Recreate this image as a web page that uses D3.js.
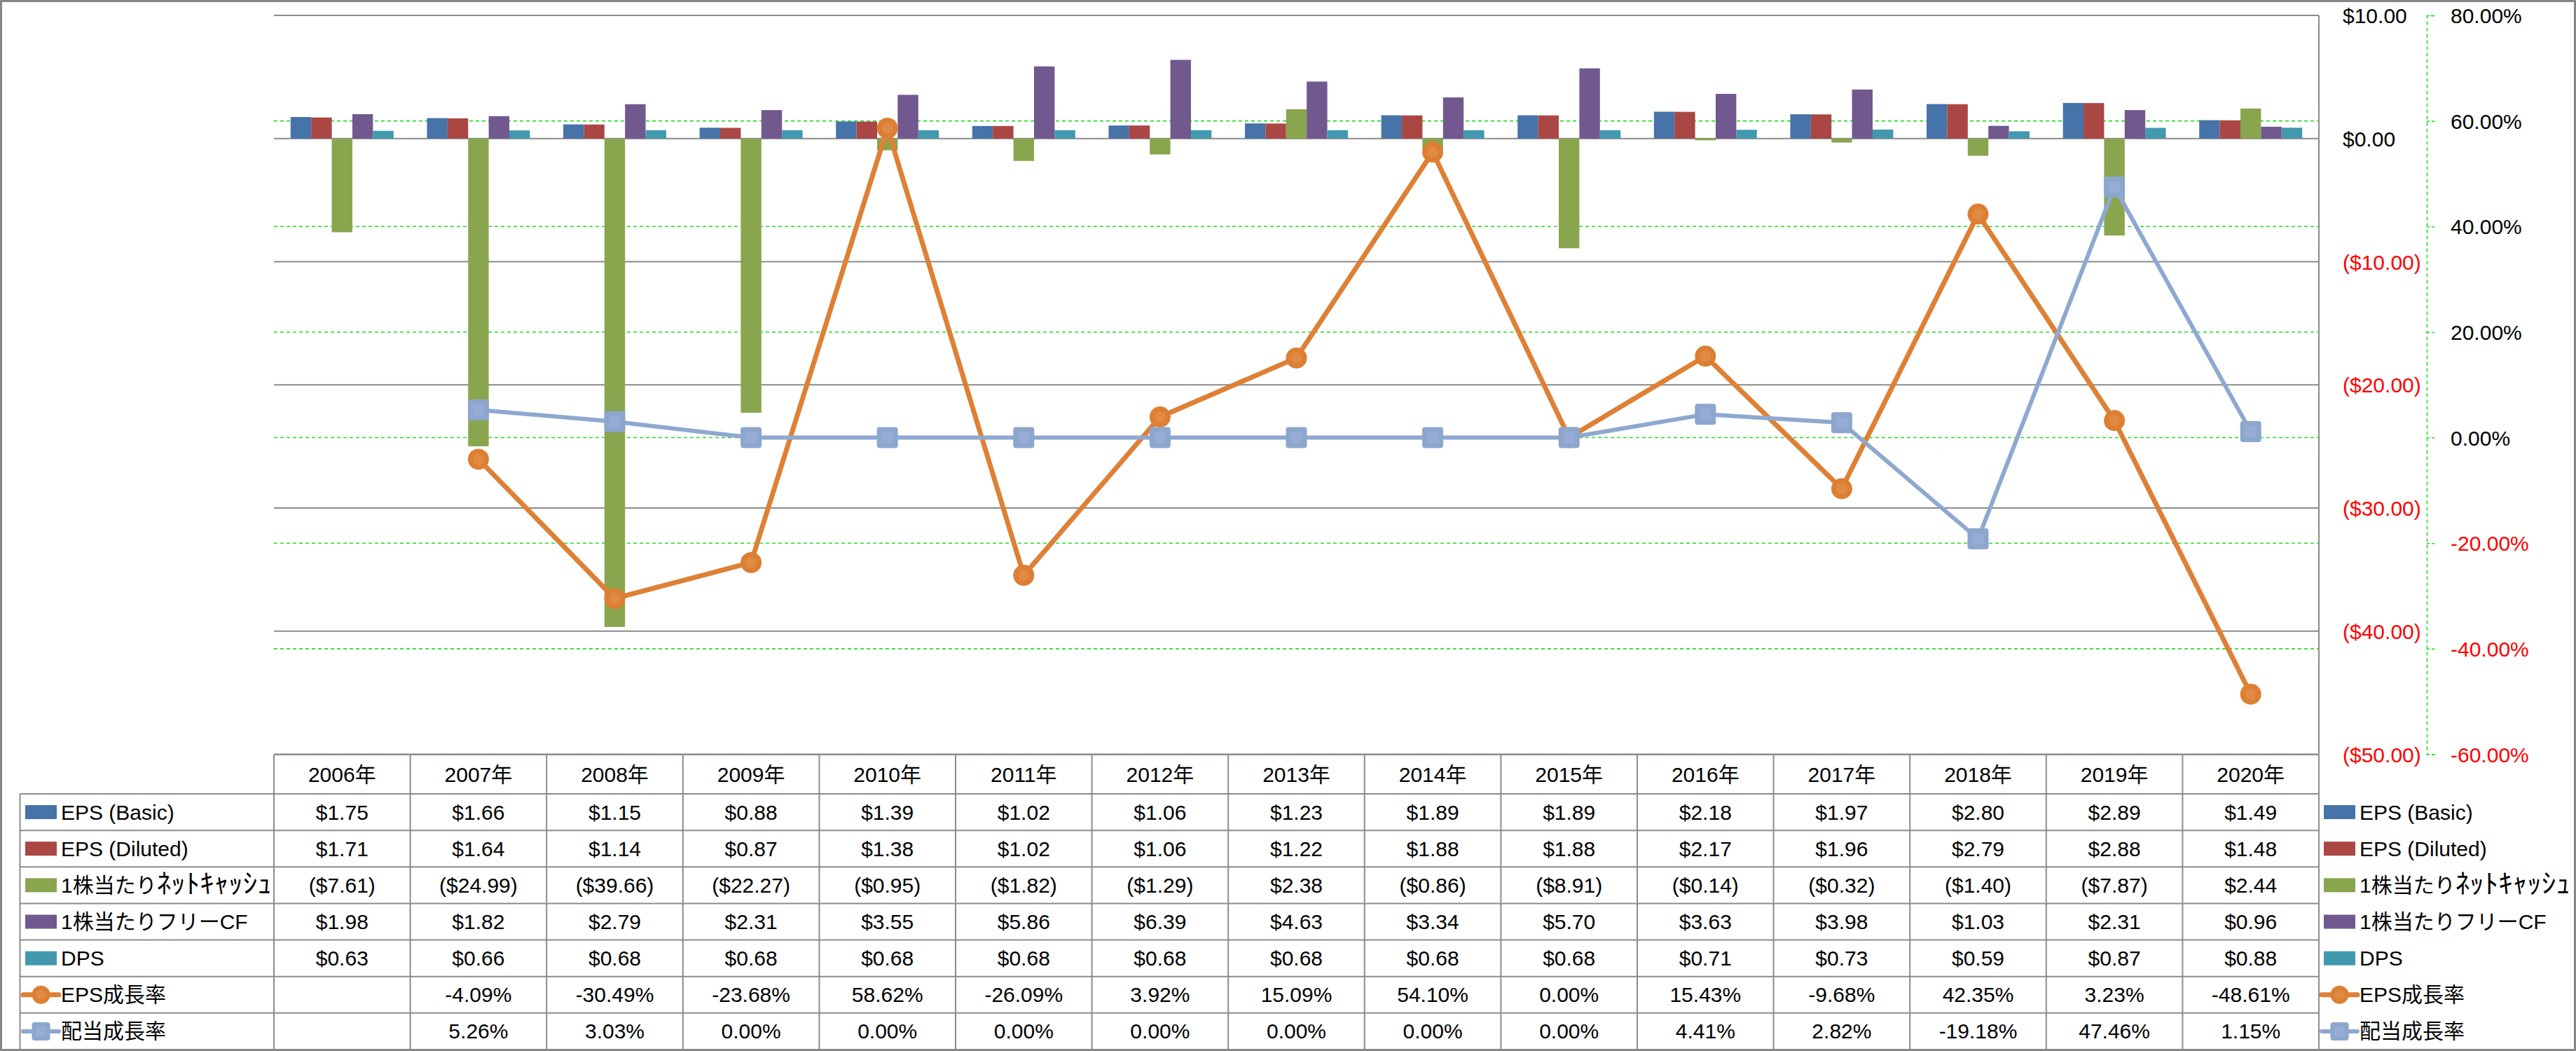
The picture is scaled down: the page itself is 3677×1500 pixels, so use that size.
<!DOCTYPE html>
<html><head><meta charset="utf-8">
<script src="https://cdn.jsdelivr.net/npm/d3@7"></script>
<style>
html,body{margin:0;padding:0;background:#fff;}
text{font-family:"Liberation Sans","Noto Sans CJK JP",sans-serif;}
</style></head>
<body><svg id="c" width="3677" height="1500"></svg>
<script>
const years = ["2006年","2007年","2008年","2009年","2010年","2011年","2012年","2013年","2014年","2015年","2016年","2017年","2018年","2019年","2020年"];
const barNames = ["EPS (Basic)","EPS (Diluted)","1株当たりﾈｯﾄｷｬｯｼｭ","1株当たりフリーCF","DPS"];
const epsBasic   = [1.75,1.66,1.15,0.88,1.39,1.02,1.06,1.23,1.89,1.89,2.18,1.97,2.80,2.89,1.49];
const epsDiluted = [1.71,1.64,1.14,0.87,1.38,1.02,1.06,1.22,1.88,1.88,2.17,1.96,2.79,2.88,1.48];
const netCash    = [-7.61,-24.99,-39.66,-22.27,-0.95,-1.82,-1.29,2.38,-0.86,-8.91,-0.14,-0.32,-1.40,-7.87,2.44];
const freeCF     = [1.98,1.82,2.79,2.31,3.55,5.86,6.39,4.63,3.34,5.70,3.63,3.98,1.03,2.31,0.96];
const dps        = [0.63,0.66,0.68,0.68,0.68,0.68,0.68,0.68,0.68,0.68,0.71,0.73,0.59,0.87,0.88];
const lineNames = ["EPS成長率","配当成長率"];
const epsGrowth  = [null,-4.09,-30.49,-23.68,58.62,-26.09,3.92,15.09,54.10,0.00,15.43,-9.68,42.35,3.23,-48.61];
const divGrowth  = [null,5.26,3.03,0.00,0.00,0.00,0.00,0.00,0.00,0.00,4.41,2.82,-19.18,47.46,1.15];
const dollarDomain = [-50,10];
const pctDomain = [-60,80];

const barSeries = [epsBasic,epsDiluted,netCash,freeCF,dps];
const barColors = ["#4673A8","#AA4644","#89A54E","#71588F","#4198AF"];
const lineSeries = [epsGrowth,divGrowth];
const lineColors = ["#DE8035","#8EA8D0"];

const svg = d3.select("#c");
const L = 391, R = 3310, T = 22, B = 1076.5;
const x = d3.scaleBand().domain(years).range([L,R]);
const bw = x.bandwidth();
const xb = d3.scaleBand().domain(d3.range(5)).range([bw*0.1225, bw*(1-0.1225)]);
const yL = d3.scaleLinear().domain(dollarDomain).range([B,T]);
const yR = d3.scaleLinear().domain(pctDomain).range([B,T]);

const fmtD = v => v < 0 ? "($" + Math.abs(v).toFixed(2) + ")" : "$" + v.toFixed(2);
const fmtP = v => v.toFixed(2) + "%";

// percent gridlines (green dashed)
svg.append("g").selectAll("line").data(yR.ticks(7)).join("line")
  .attr("x1",L).attr("x2",R).attr("y1",d=>yR(d)).attr("y2",d=>yR(d))
  .attr("stroke","#22E022").attr("stroke-width",1.6).attr("stroke-dasharray","5,4");
// dollar gridlines (grey)
svg.append("g").selectAll("line").data(yL.ticks(6)).join("line")
  .attr("x1",L).attr("x2",R).attr("y1",d=>yL(d)).attr("y2",d=>yL(d))
  .attr("stroke","#8A8A8A").attr("stroke-width",2);

// bars
const gb = svg.append("g");
barSeries.forEach((ser,si)=>{
  gb.append("g").selectAll("rect").data(ser).join("rect")
    .attr("x",(d,i)=>x(years[i])+xb(si))
    .attr("width",xb.bandwidth())
    .attr("y",d=>yL(Math.max(0,d)))
    .attr("height",d=>Math.abs(yL(d)-yL(0)))
    .attr("fill",barColors[si]);
});

// right plot border (primary axis line)
svg.append("line").attr("x1",R).attr("x2",R).attr("y1",T).attr("y2",B)
  .attr("stroke","#8A8A8A").attr("stroke-width",2);

// dollar axis
const axD = svg.append("g").attr("transform",`translate(${R},0)`)
  .call(d3.axisRight(yL).ticks(6).tickSize(0).tickPadding(34).tickFormat(fmtD));
axD.select(".domain").remove();
axD.selectAll("text").attr("font-size",30).attr("dy","0.35em")
  .attr("fill",d=>d<0?"#FF0000":"#000");

// percent axis
const axP = svg.append("g").attr("transform",`translate(3464,0)`)
  .call(d3.axisRight(yR).ticks(7).tickSize(12).tickPadding(22).tickFormat(fmtP));
axP.select(".domain").attr("stroke","#22E022").attr("stroke-width",1.6).attr("stroke-dasharray","5,4");
axP.selectAll(".tick line").attr("stroke","#22E022").attr("stroke-width",1.6).attr("stroke-dasharray","4,3");
axP.selectAll("text").attr("font-size",30).attr("dy","0.35em")
  .attr("fill",d=>d<0?"#FF0000":"#000");

// lines
const cx = i => x(years[i]) + bw/2;
lineSeries.forEach((ser,li)=>{
  const line = d3.line().defined(d=>d!=null).x((d,i)=>cx(i)).y(d=>yR(d));
  svg.append("path").datum(ser).attr("d",line).attr("fill","none")
    .attr("stroke",lineColors[li]).attr("stroke-width",li===0?7:6).attr("stroke-linejoin","round");
});
// markers
const pts0 = epsGrowth.map((v,i)=>({v,i})).filter(d=>d.v!=null);
const g0 = svg.append("g");
g0.selectAll("circle.o").data(pts0).join("circle").attr("cx",d=>cx(d.i)).attr("cy",d=>yR(d.v)).attr("r",15).attr("fill","#DD7F33");
g0.selectAll("circle.i").data(pts0).join("circle").attr("cx",d=>cx(d.i)).attr("cy",d=>yR(d.v)).attr("r",8).attr("fill","#E08A44");
const pts1 = divGrowth.map((v,i)=>({v,i})).filter(d=>d.v!=null);
const g1 = svg.append("g");
g1.selectAll("rect.o").data(pts1).join("rect").attr("x",d=>cx(d.i)-15).attr("y",d=>yR(d.v)-15).attr("width",30).attr("height",30).attr("rx",4).attr("fill","#8CA6CE");
g1.selectAll("rect.i").data(pts1).join("rect").attr("x",d=>cx(d.i)-8).attr("y",d=>yR(d.v)-8).attr("width",16).attr("height",16).attr("fill","#97ACD5");

// ===== data table =====
const tableRows = [
  {name:barNames[0], vals:epsBasic.map(fmtD), type:"bar", c:barColors[0]},
  {name:barNames[1], vals:epsDiluted.map(fmtD), type:"bar", c:barColors[1]},
  {name:barNames[2], vals:netCash.map(fmtD), type:"bar", c:barColors[2]},
  {name:barNames[3], vals:freeCF.map(fmtD), type:"bar", c:barColors[3]},
  {name:barNames[4], vals:dps.map(fmtD), type:"bar", c:barColors[4]},
  {name:lineNames[0], vals:epsGrowth.map(v=>v==null?"":fmtP(v)), type:"circle", c:lineColors[0]},
  {name:lineNames[1], vals:divGrowth.map(v=>v==null?"":fmtP(v)), type:"square", c:lineColors[1]}
];
const TL = 28.5, HT = 1077, HB = 1133, TB = 1498;
const yRow = d3.scaleBand().domain(d3.range(tableRows.length)).range([HB,TB]);
const gt = svg.append("g");
const gridC = "#8C8C8C";
gt.append("line").attr("x1",L).attr("x2",R).attr("y1",HT).attr("y2",HT).attr("stroke",gridC).attr("stroke-width",2);
d3.range(tableRows.length+1).forEach(k=>{
  const yy = k<tableRows.length ? yRow(k) : TB;
  gt.append("line").attr("x1",TL).attr("x2",R).attr("y1",yy).attr("y2",yy).attr("stroke",gridC).attr("stroke-width",2);
});
gt.append("line").attr("x1",TL).attr("x2",TL).attr("y1",HB).attr("y2",TB).attr("stroke",gridC).attr("stroke-width",2);
years.forEach(yv=>{
  gt.append("line").attr("x1",x(yv)).attr("x2",x(yv)).attr("y1",HT).attr("y2",TB).attr("stroke",gridC).attr("stroke-width",2);
});
gt.append("line").attr("x1",R).attr("x2",R).attr("y1",HT).attr("y2",TB).attr("stroke",gridC).attr("stroke-width",2);
gt.selectAll("text.h").data(years).join("text")
  .attr("x",d=>x(d)+bw/2).attr("y",(HT+HB)/2).attr("dy","0.35em")
  .attr("text-anchor","middle").attr("font-size",30).attr("fill","#000").text(d=>d);

function legendKey(g, row, x0, x1, yc){
  if(row.type==="bar"){
    g.append("rect").attr("x",x0).attr("y",yc-10).attr("width",x1-x0).attr("height",20).attr("fill",row.c);
  } else {
    g.append("line").attr("x1",x0-3).attr("x2",x1+3).attr("y1",yc).attr("y2",yc).attr("stroke",row.c).attr("stroke-width",row.type==="circle"?7:6).attr("stroke-linecap","round");
    const m = (x0+x1)/2;
    if(row.type==="circle"){
      g.append("circle").attr("cx",m).attr("cy",yc).attr("r",13).attr("fill","#DD7F33");
      g.append("circle").attr("cx",m).attr("cy",yc).attr("r",7).attr("fill","#E08A44");
    } else {
      g.append("rect").attr("x",m-13).attr("y",yc-13).attr("width",26).attr("height",26).attr("rx",4).attr("fill","#8CA6CE");
      g.append("rect").attr("x",m-7).attr("y",yc-7).attr("width",14).attr("height",14).attr("fill","#97ACD5");
    }
  }
}
// label with half-width katakana drawn a bit larger so it reads like the original
function labelText(g, xx, yc, name){
  const t = g.append("text").attr("x",xx).attr("y",yc).attr("dy","0.35em").attr("font-size",30).attr("fill","#000");
  const m = name.match(/^(.*?)([\uFF61-\uFF9F]+)$/);
  if(m){
    t.append("tspan").text(m[1]);
    t.append("tspan").attr("font-size",38).attr("textLength",164).attr("lengthAdjust","spacingAndGlyphs").text(m[2]);
  } else {
    t.text(name);
  }
}
tableRows.forEach((row,ri)=>{
  const yc = yRow(ri) + yRow.bandwidth()/2;
  legendKey(gt,row,36,81,yc);
  labelText(gt,87,yc,row.name);
  gt.append("g").selectAll("text").data(row.vals).join("text")
    .attr("x",(d,i)=>x(years[i])+bw/2).attr("y",yc).attr("dy","0.35em")
    .attr("text-anchor","middle").attr("font-size",30).attr("fill","#000").text(d=>d);
  legendKey(gt,row,3317,3362,yc);
  labelText(gt,3368,yc,row.name);
});

// outer border
svg.append("rect").attr("x",1.5).attr("y",1.5).attr("width",3674).attr("height",1497)
  .attr("fill","none").attr("stroke","#868686").attr("stroke-width",3);
</script></body></html>
